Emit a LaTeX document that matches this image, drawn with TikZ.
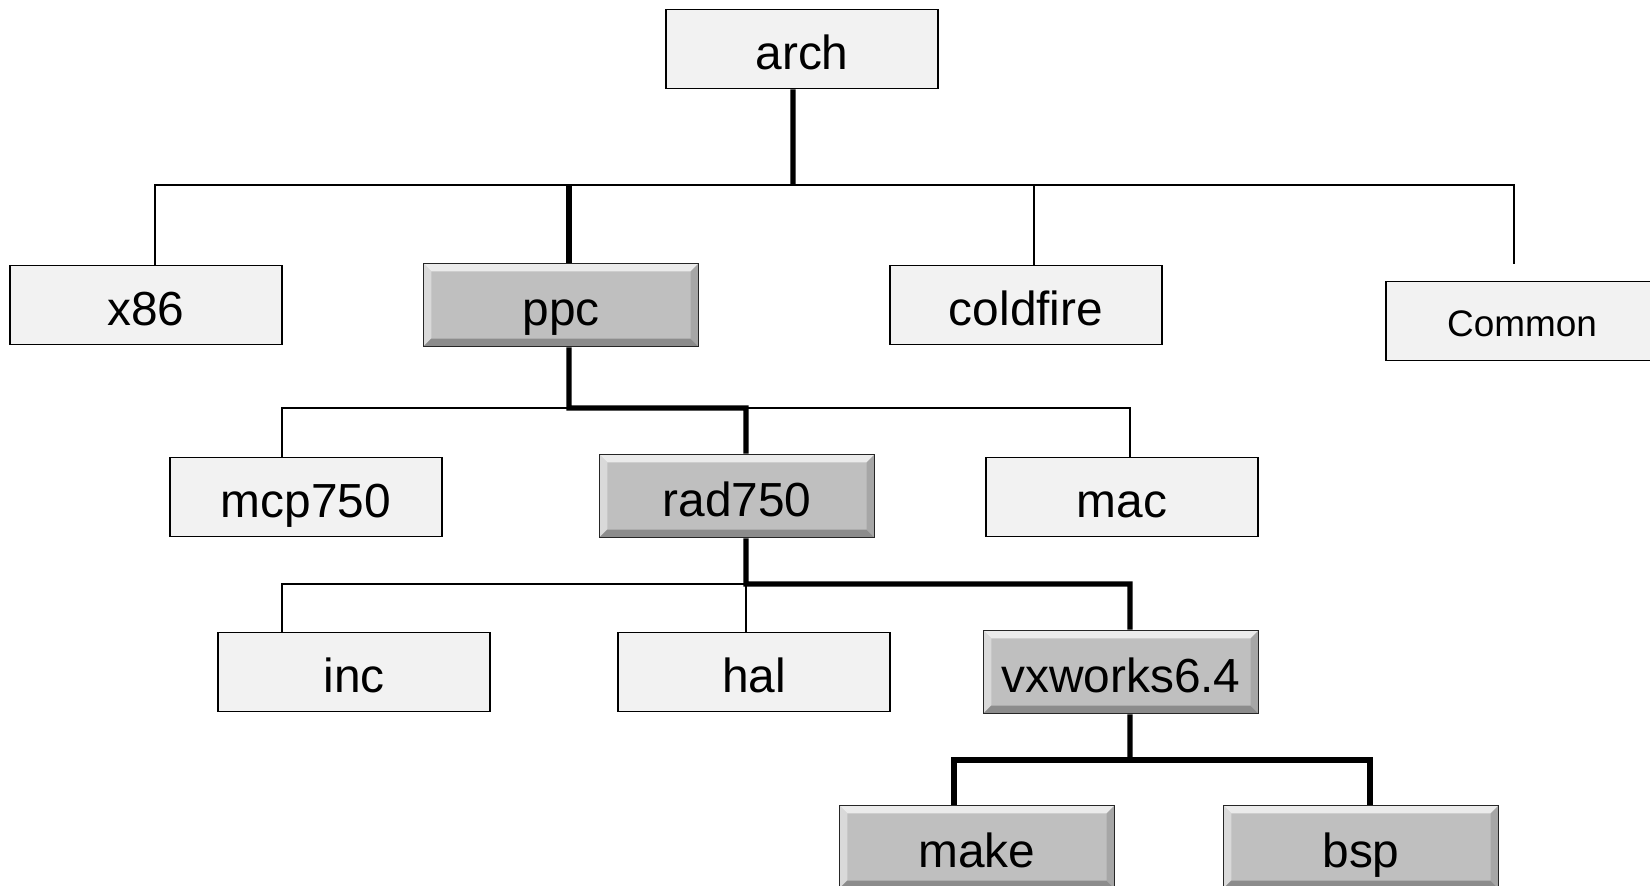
\documentclass[tikz,border=0pt]{standalone}
\usepackage{fontspec}
\setmainfont{Liberation Sans}

\begin{document}
\begin{tikzpicture}[
  x=0.01cm, y=0.01cm,
  dirbox/.style={draw=black, line width=0.45pt, fill=black!5,
                 minimum width=2.72cm, minimum height=0.79cm, inner sep=0pt,
                 text height=0.41cm, text depth=0pt,
                 font=\fontsize{13.6}{16}\selectfont},
  pathbox/.style={dirbox, draw=black!85, fill=black!25,
                  minimum width=2.75cm, minimum height=0.83cm,
                  path picture={
                    \path (path picture bounding box.south west) coordinate (bsw)
                          (path picture bounding box.north east) coordinate (bne);
                    % ---- bevel: top, left, bottom, right ----
                    \fill[black!8]  (bsw |- bne) -- (bne) -- ++(-\bev,-\bev)
                                    -- ([shift={(\bev,-\bev)}]bsw |- bne) -- cycle;
                    \fill[black!15] (bsw |- bne) -- (bsw) -- ++(\bev,\bev)
                                    -- ([shift={(\bev,-\bev)}]bsw |- bne) -- cycle;
                    \fill[black!45] (bsw) -- (bsw -| bne) -- ++(-\bev,\bev)
                                    -- ([shift={(\bev,\bev)}]bsw) -- cycle;
                    \fill[black!35] (bsw -| bne) -- (bne) -- ++(-\bev,-\bev)
                                    -- ([shift={(-\bev,\bev)}]bsw -| bne) -- cycle;
                  }},
  branch/.style={line width=0.5pt},
  trunk/.style={line width=1.5pt}
]
\def\bev{0.08cm}   % bevel width of highlighted boxes

\useasboundingbox (0,0) rectangle (1650,-886);

% ===== bus levels =====
\coordinate (busA) at (793,-185);
\coordinate (busB) at (569,-408);
\coordinate (busC) at (746,-584);
\coordinate (busD) at (1130,-760);

% ===== directories =====
\node[dirbox]  (arch)     at (802,-49)   {arch};
\node[dirbox]  (x86)      at (146,-305)  {x86};
\node[pathbox] (ppc)      at (561,-305)  {ppc};
\node[dirbox]  (coldfire) at (1026,-305) {coldfire};
\node[dirbox, text height=0.32cm, font=\fontsize{10.5}{13}\selectfont]
               (common)   at (1522,-321) {Common};

\node[dirbox]  (mcp750)   at (306,-497)  {mcp750};
\node[pathbox] (rad750)   at (737,-496)  {rad750};
\node[dirbox]  (mac)      at (1122,-497) {mac};

\node[dirbox]  (inc)      at (354,-672)  {inc};
\node[dirbox]  (hal)      at (754,-672)  {hal};
\node[pathbox] (vxworks)  at (1121,-672) {vxworks6.4};

\node[pathbox] (make)     at (977,-847)  {make};
\node[pathbox] (bsp)      at (1361,-847) {bsp};

% ===== thin branches =====
\draw[branch] ([xshift=0.09cm]x86.north) |- (busA) -| ([xshift=0.08cm]coldfire.north);
\draw[branch] (busA) -| ([xshift=-0.08cm,yshift=0.17cm]common.north);
\draw[branch] ([xshift=-0.24cm]mcp750.north) |- (busB) -| ([xshift=0.08cm]mac.north);
\draw[branch] ([xshift=-0.72cm]inc.north) |- (busC);
\draw[branch] (busC) -- (busC |- hal.north);

% ===== selected path (thick) =====
\draw[trunk] ([xshift=-0.09cm]arch.south) -- (busA);
\draw[trunk] ([xshift=0.08cm]ppc.north) -- ([xshift=0.08cm]ppc.north |- busA);
\draw[trunk] ([xshift=0.08cm]ppc.south) -- (busB) -| ([xshift=0.09cm]rad750.north);
\draw[trunk] ([xshift=0.09cm]rad750.south) -- (busC) -| ([xshift=0.09cm]vxworks.north);
\draw[trunk] ([xshift=0.09cm]vxworks.south) -- (busD);
\draw[trunk] ([xshift=-0.23cm]make.north) |- (busD) -| ([xshift=0.09cm]bsp.north);

\end{tikzpicture}
\end{document}
